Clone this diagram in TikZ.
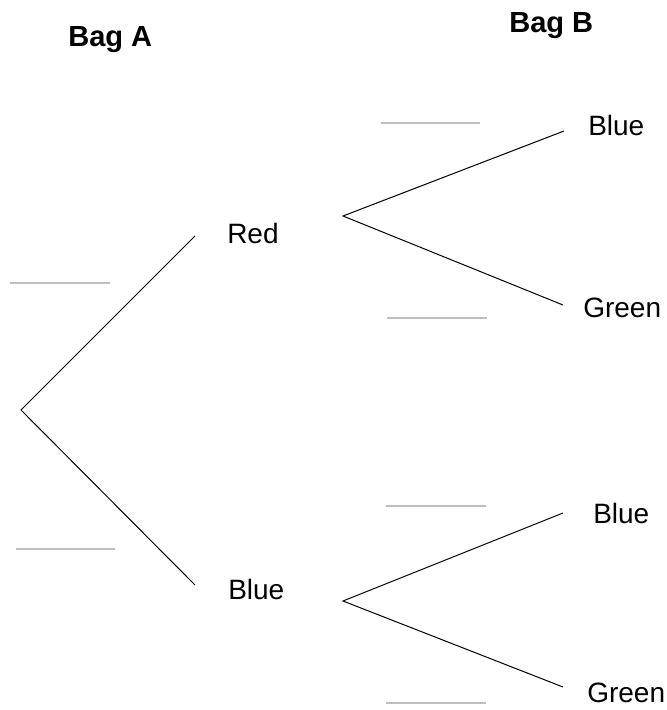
\documentclass[tikz,border=0pt]{standalone}
\usepackage{fontspec}
\setmainfont{Liberation Sans}
\begin{document}
\begin{tikzpicture}[x=0.75pt,y=-0.75pt,
  lbl/.style={anchor=base west,inner sep=0pt,font=\fontsize{21}{25}\selectfont},
  hdr/.style={anchor=base west,inner sep=0pt,font=\fontsize{21.8}{25}\selectfont\bfseries},
  branch/.style={draw=black,line width=0.75pt},
  blank/.style={draw={rgb,255:red,190;green,190;blue,190},line width=2pt}]
\useasboundingbox (0,0) rectangle (667,710);
% headers
\node[hdr] (bagA) at (68,47) {Bag A};
\node[hdr] (bagB) at (509,33) {Bag B};
% labels
\node[lbl] (red) at (227,243) {Red};
\node[lbl] (blueA) at (228,599) {Blue};
\node[lbl] (blueB1) at (588,135) {Blue};
\node[lbl] (greenB1) at (583,317) {Green};
\node[lbl] (blueB2) at (593,523) {Blue};
\node[lbl] (greenB2) at (587,702) {Green};
% branch points
\coordinate (root) at (21,410);
\coordinate (redIn) at (195,236);
\coordinate (blueIn) at (195,585);
\coordinate (redV) at (343,216);
\coordinate (b1End) at (564,131);
\coordinate (g1End) at (563,305);
\coordinate (blueV) at (343,601);
\coordinate (b2End) at (563,513);
\coordinate (g2End) at (563,687);
\draw[branch] (redIn) -- (root) -- (blueIn);
\draw[branch] (b1End) -- (redV) -- (g1End);
\draw[branch] (b2End) -- (blueV) -- (g2End);
% answer blanks
\coordinate (l1a) at (10,283); \coordinate (l1b) at (110,283);
\coordinate (l2a) at (16,549); \coordinate (l2b) at (115,549);
\coordinate (l3a) at (381,123); \coordinate (l3b) at (480,123);
\coordinate (l4a) at (387,318); \coordinate (l4b) at (487,318);
\coordinate (l5a) at (386,506); \coordinate (l5b) at (486,506);
\coordinate (l6a) at (386,703); \coordinate (l6b) at (486,703);
\draw[blank] (l1a) -- (l1b);
\draw[blank] (l2a) -- (l2b);
\draw[blank] (l3a) -- (l3b);
\draw[blank] (l4a) -- (l4b);
\draw[blank] (l5a) -- (l5b);
\draw[blank] (l6a) -- (l6b);
\end{tikzpicture}
\end{document}
